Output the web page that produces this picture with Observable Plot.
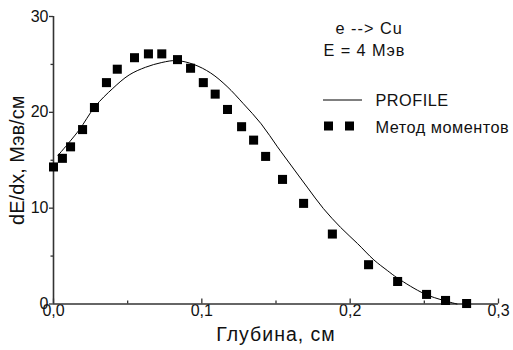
<!DOCTYPE html>
<html>
<head>
<meta charset="utf-8">
<script src="https://cdn.jsdelivr.net/npm/d3@7"></script>
<script src="https://cdn.jsdelivr.net/npm/@observablehq/plot@0.6"></script>
<style>
  html, body { margin: 0; padding: 0; background: #fff; }
  #wrap { position: relative; width: 513px; height: 350px; font-family: "Liberation Sans", Arial, sans-serif; }
  #legend { position: absolute; left: 0; top: 0; pointer-events: none; }
</style>
</head>
<body>
<div id="wrap"></div>
<script>
// Метод моментов (squares)
const momentDepth = [0, 0.006, 0.0115, 0.0196, 0.0276, 0.0357, 0.043, 0.0546, 0.064, 0.073, 0.0836, 0.0924, 0.101, 0.109, 0.1173, 0.1268, 0.1349, 0.143, 0.1544, 0.1686, 0.188, 0.2124, 0.232, 0.2515, 0.2643, 0.2785];
const momentDEdx  = [14.3, 15.2, 16.4, 18.2, 20.5, 23.1, 24.5, 25.7, 26.1, 26.1, 25.5, 24.6, 23.1, 21.9, 20.3, 18.5, 17.1, 15.4, 13.0, 10.5, 7.3, 4.1, 2.35, 1.0, 0.37, 0.05];
// PROFILE (line)
const profileDepth = [0.003, 0.017, 0.028, 0.040, 0.051, 0.062, 0.073, 0.083, 0.0945, 0.106, 0.117, 0.128, 0.140, 0.151, 0.160, 0.171, 0.182, 0.1935, 0.205, 0.216, 0.225, 0.232, 0.250, 0.263, 0.272];
const profileDEdx  = [15.5, 18.1, 20.6, 22.5, 23.9, 24.7, 25.2, 25.4, 25.0, 24.1, 22.7, 20.9, 18.8, 16.4, 14.5, 12.2, 9.95, 8.0, 6.3, 4.6, 3.5, 2.7, 1.07, 0.37, 0.0];

const xMajor = [0, 0.1, 0.2, 0.3];
const xMinor = [0.05, 0.15, 0.25];
const xTickLabels = ["0,0", "0,1", "0,2", "0,3"];
const yMajor = [0, 10, 20, 30];
const yMinor = [5, 15, 25];

const xLabel = "Глубина, см";
const yLabel = "dE/dx, Мэв/см";
const note1 = "e --> Cu";
const note2 = "E = 4 Мэв";
const legendLine = "PROFILE";
const legendSquares = "Метод моментов";

const moments = momentDepth.map((d, i) => ({depth: d, v: momentDEdx[i]}));
const profile = profileDepth.map((d, i) => ({depth: d, v: profileDEdx[i]}));

const font = "Liberation Sans, Arial, sans-serif";
const axisColor = "#333";

const chart = Plot.plot({
  width: 513,
  height: 350,
  marginLeft: 53,
  marginRight: 15,
  marginTop: 16,
  marginBottom: 46.5,
  style: {fontFamily: font, background: "#fff", color: "#111"},
  x: {domain: [0, 0.3], label: null},
  y: {domain: [0, 30], label: null},
  marks: [
    // x axis ticks pointing inward (shifted up by their own length)
    Plot.axisX(xMajor, {tickSize: 5, dy: -5, tickFormat: () => "", stroke: axisColor, strokeWidth: 1.3, label: null}),
    Plot.axisX(xMinor, {tickSize: 3, dy: -3, tickFormat: () => "", stroke: axisColor, strokeWidth: 1.3, label: null}),
    Plot.axisX(xMajor, {tickSize: 0, tickPadding: 1, tickFormat: (d, i) => xTickLabels[i], fontSize: 16, fill: "#111", label: null}),
    // y axis ticks outward
    Plot.axisY(yMajor, {tickSize: 4, tickPadding: 1, tickFormat: d => String(d), fontSize: 16, fill: "#111", stroke: axisColor, strokeWidth: 1.3, label: null}),
    Plot.axisY(yMinor, {tickSize: 2.5, tickFormat: () => "", stroke: axisColor, strokeWidth: 1.3, label: null}),
    Plot.ruleY([0], {stroke: axisColor, strokeWidth: 1.6}),
    Plot.ruleX([0], {stroke: axisColor, strokeWidth: 1.6}),
    // data
    Plot.line(profile, {x: "depth", y: "v", stroke: "#000", strokeWidth: 1, curve: "catmull-rom"}),
    Plot.dot(moments, {x: "depth", y: "v", symbol: "square", r: 5.1, fill: "#000", stroke: "none"}),
    // axis titles
    Plot.text([xLabel], {frameAnchor: "bottom", dy: 31, fontSize: 19.5, fill: "#111", textAnchor: "middle", lineAnchor: "middle"}),
    Plot.text([yLabel], {frameAnchor: "left", rotate: -90, dx: -36, dy: 0, fontSize: 20, fill: "#111", textAnchor: "middle", lineAnchor: "middle"}),
    // annotations
    Plot.text([note1], {frameAnchor: "top-right", dx: -163, dy: 12, fontSize: 16.3, fill: "#111", textAnchor: "start", lineAnchor: "middle"}),
    Plot.text([note2], {frameAnchor: "top-right", dx: -175, dy: 34, fontSize: 16.3, fill: "#111", textAnchor: "start", lineAnchor: "middle"}),
    Plot.text([legendLine], {frameAnchor: "top-right", dx: -123, dy: 84, fontSize: 16.3, fill: "#111", textAnchor: "start", lineAnchor: "middle"}),
    Plot.text([legendSquares], {frameAnchor: "top-right", dx: -123, dy: 111, fontSize: 16.3, fill: "#111", textAnchor: "start", lineAnchor: "middle"})
  ]
});

// widen some texts slightly to match the reference's letter widths
const spacing = new Map([[xLabel, "1px"], [note1, "1px"], [note2, "0.9px"], [legendLine, "0.5px"], [legendSquares, "0.5px"]]);
d3.select(chart).selectAll("text").each(function() {
  const s = spacing.get(this.textContent);
  if (s) this.style.letterSpacing = s;
});

const wrap = document.getElementById("wrap");
wrap.appendChild(chart);

// legend symbols overlay
const ns = "http://www.w3.org/2000/svg";
const leg = document.createElementNS(ns, "svg");
leg.setAttribute("id", "legend");
leg.setAttribute("width", 513);
leg.setAttribute("height", 350);
const ln = document.createElementNS(ns, "line");
ln.setAttribute("x1", 323); ln.setAttribute("x2", 362);
ln.setAttribute("y1", 100); ln.setAttribute("y2", 100);
ln.setAttribute("stroke", "#000"); ln.setAttribute("stroke-width", 1);
leg.appendChild(ln);
for (const cx of [328.5, 349.5]) {
  const r = document.createElementNS(ns, "rect");
  r.setAttribute("x", cx - 4.5); r.setAttribute("y", 121.5);
  r.setAttribute("width", 9); r.setAttribute("height", 9);
  r.setAttribute("fill", "#000");
  leg.appendChild(r);
}
wrap.appendChild(leg);
</script>
</body>
</html>
